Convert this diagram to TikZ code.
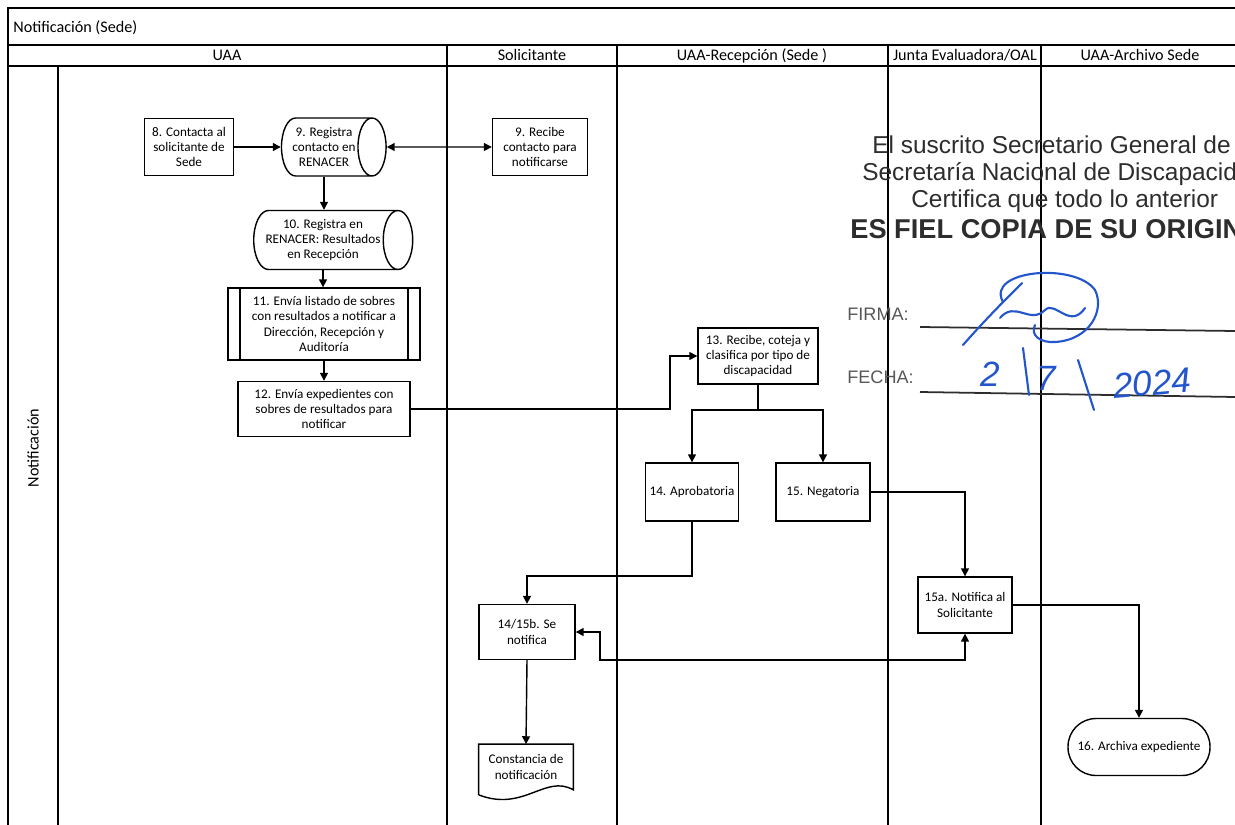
\documentclass[tikz,border=0pt]{standalone}
\usepackage{fontspec}
\setmainfont{Carlito}
\newfontfamily\stampfont{Liberation Sans}
\usetikzlibrary{arrows.meta,positioning,calc,shapes.geometric}
\definecolor{inkblue}{RGB}{35,85,205}
\definecolor{stampgray}{RGB}{45,45,45}
\tikzset{
  lane/.style={line width=1.1pt},
  blk/.style={draw,rectangle,line width=0.8pt,align=center,inner sep=1pt,font=\fontsize{7.5}{8.7}\selectfont},
  stor/.style={blk,cylinder,shape aspect=0.65},
  subp/.style={blk,path picture={
      \draw[line width=0.8pt] ([xshift=0.24cm]path picture bounding box.north west) -- ([xshift=0.24cm]path picture bounding box.south west);
      \draw[line width=0.8pt] ([xshift=-0.24cm]path picture bounding box.north east) -- ([xshift=-0.24cm]path picture bounding box.south east);}},
  docblk/.style={rectangle,align=center,inner sep=1pt,font=\fontsize{7.5}{8.7}\selectfont},
  term/.style={blk,rounded corners=0.56cm},
  hdr/.style={font=\fontsize{9.2}{11}\selectfont,inner sep=0pt,anchor=base},
  arr/.style={-{Triangle[length=4.5pt,width=4.5pt]},line width=0.8pt},
  darr/.style={{Triangle[length=4.5pt,width=4.5pt]}-{Triangle[length=4.5pt,width=4.5pt]},line width=0.8pt},
  stmp/.style={anchor=base west,inner sep=0pt,text=stampgray,font=\stampfont\fontsize{13.9}{15}\selectfont},
  ink/.style={draw=inkblue,line width=1.2pt,line cap=round,line join=round},
  inktxt/.style={text=inkblue,inner sep=0pt,font=\stampfont\itshape\fontsize{20}{20}\selectfont}
}

\begin{document}
\begin{tikzpicture}[x=0.02cm,y=-0.02cm]
  \useasboundingbox (0,0) rectangle (1235,825);
  \clip (0,0) rectangle (1235,825);

  % Frame and lanes
  \draw[lane] (1235,8) -- (8,8) -- (8,825);
  \draw[lane] (8,45) -- (1235,45);
  \draw[lane] (8,66) -- (1235,66);
  \draw[lane] (58,66) -- (58,825);
  \foreach \x in {447,617,888,1041}
    \draw[lane] (\x,45) -- (\x,825);

  % Titles
  \node[hdr,anchor=base west] (ttl) at (13,32) {Notificación (Sede)};
  \node[hdr] (hUAA) at (227,60) {UAA};
  \node[hdr] (hSol) at (532,60) {Solicitante};
  \node[hdr] (hRec) at (752,60) {UAA-Recepción (Sede )};
  \node[hdr] (hJun) at (965,60) {Junta Evaluadora/OAL};
  \node[hdr] (hArc) at (1140,60) {UAA-Archivo Sede};
  \node[hdr,anchor=center,rotate=90] (hNot) at (33,448) {Notificación};

  % UAA
  \node[blk,minimum width=1.78cm,minimum height=1.14cm] (n8) at (189,147) {8. Contacta al\\solicitante de\\Sede};
  \node[stor,minimum width=1.16cm,minimum height=2.02cm] (n9) at (324,147) {9. Registra\\contacto en\\RENACER};
  \node[stor,minimum width=1.18cm,minimum height=3.18cm] (n10) at (323,240) {10. Registra en\\RENACER: Resultados\\en Recepción};
  \node[subp,minimum width=3.84cm,minimum height=1.44cm] (n11) at (324,324) {11. Envía listado de sobres\\con resultados a notificar a\\Dirección, Recepción y\\Auditoría};
  \node[blk,minimum width=3.44cm,minimum height=1.1cm] (n12) at (324,409) {12. Envía expedientes con\\sobres de resultados para\\notificar};

  % Solicitante
  \node[blk,minimum width=1.9cm,minimum height=1.14cm] (n9b) at (540,147) {9. Recibe\\contacto para\\notificarse};
  \node[blk,minimum width=1.92cm,minimum height=1.1cm] (n1415b) at (527,632) {14/15b. Se\\notifica};
  \node[docblk,minimum width=1.88cm,minimum height=0.9cm] (doc) at (526,767) {Constancia de\\notificación};
  \draw[line width=0.8pt] ([yshift=-0.1cm]doc.south west) -- (doc.north west) -- (doc.north east) -- (doc.south east)
    .. controls ([xshift=-0.56cm,yshift=0.32cm]doc.south east) and ([xshift=0.9cm,yshift=-0.45cm]doc.south west) .. ([yshift=-0.1cm]doc.south west);

  % UAA-Recepcion
  \node[blk,minimum width=2.4cm,minimum height=1.12cm] (n13) at (758,356) {13. Recibe, coteja y\\clasifica por tipo de\\discapacidad};
  \node[blk,minimum width=1.86cm,minimum height=1.16cm] (n14) at (692,492) {14. Aprobatoria};
  \node[blk,minimum width=1.88cm,minimum height=1.16cm] (n15) at (823,492) {15. Negatoria};

  % Junta and Archivo
  \node[blk,minimum width=1.88cm,minimum height=1.12cm] (n15a) at (965,605) {15a. Notifica al\\Solicitante};
  \node[term,minimum width=2.84cm,minimum height=1.14cm] (n16) at (1139,747) {16. Archiva expediente};

  % Connectors
  \draw[arr] (n8.east) -- (n9.west);
  \draw[darr] (n9.east) -- (n9b.west);
  \draw[arr] (n9.south) -- (n9.south |- n10.north);
  \draw[arr] (n10.south) -- (n10.south |- n11.north);
  \draw[arr] (n11.south) -- (n12.north);
  \coordinate (k13) at (670,0);
  \draw[arr] (n12.east) -- (n12.east -| k13) |- (n13.west);
  \coordinate (j13) at (758,410);
  \draw[line width=0.8pt] (n13.south) -- (j13);
  \draw[arr] (j13) -| (n14.north);
  \draw[arr] (j13) -| (n15.north);
  \draw[arr] (n15.east) -| (n15a.north);
  \coordinate (j14) at (0,576);
  \draw[arr] (n14.south) -- (n14.south |- j14) -| (n1415b.north);
  \coordinate (k15) at (600,660);
  \draw[darr] (n1415b.east) -| (k15) -| (n15a.south);
  \draw[arr] (n15a.east) -| (n16.north);
  \draw[arr] (n1415b.south) -- (doc.north);

  % Stamp
  \node[stmp] (st1) at (872,153) {El suscrito Secretario General de};
  \node[stmp] (st2) at (862,180) {Secretaría Nacional de Discapacid};
  \node[stmp] (st3) at (911,207) {Certifica que todo lo anterior};
  \node[stmp,font=\stampfont\bfseries\fontsize{15.5}{17}\selectfont] (st4) at (850,238) {ES FIEL COPIA DE SU ORIGIN};
  \node[stmp,font=\stampfont\fontsize{10.3}{12}\selectfont,text=stampgray!80] (firma) at (847,320) {FIRMA:};
  \node[stmp,font=\stampfont\fontsize{10.3}{12}\selectfont,text=stampgray!80] (fecha) at (847,383) {FECHA:};
  \draw[line width=1pt,stampgray] (920,327) -- (1235,331);
  \draw[line width=1pt,stampgray] (920,392) -- (1235,397);

  % Signature and date
  \draw[ink] (963,345) .. controls (985,320) and (1005,300) .. (1022,283);
  \draw[ink] (1003,302) .. controls (985,270) and (1075,262) .. (1095,290) .. controls (1105,310) and (1090,340) .. (1055,342) .. controls (1040,343) and (1030,335) .. (1035,325);
  \draw[ink] (1000,318) .. controls (1015,300) and (1030,325) .. (1045,310) .. controls (1055,300) and (1070,330) .. (1085,308);
  \node[inktxt] (d1) at (990,374) {2};
  \draw[ink] (1023,348) -- (1029,395);
  \node[inktxt] (d2) at (1046,378) {7};
  \draw[ink] (1078,360) -- (1094,410);
  \node[inktxt,rotate=5] (d3) at (1152,383) {2024};
\end{tikzpicture}
\end{document}
